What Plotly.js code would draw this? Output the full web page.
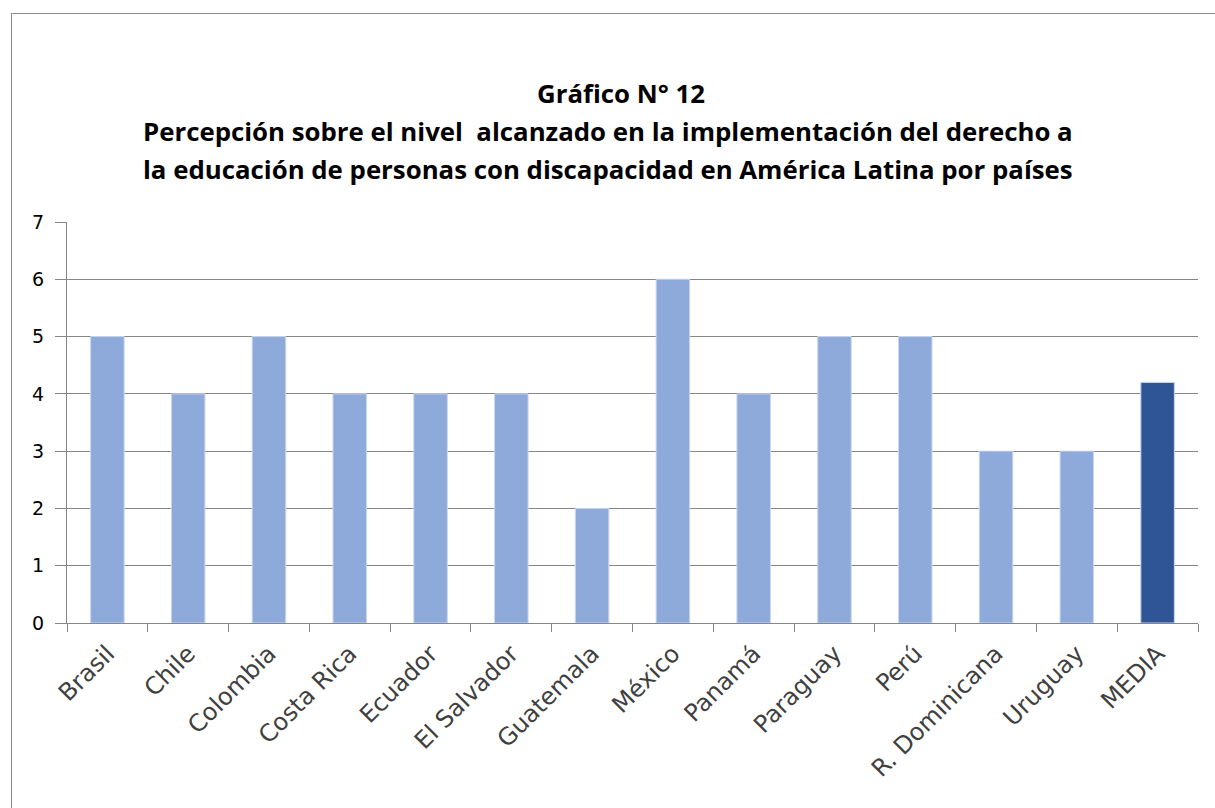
<!DOCTYPE html>
<html>
<head>
<meta charset="utf-8">
<script src="https://cdn.plot.ly/plotly-3.0.1.min.js"></script>
<style>
  html, body { margin: 0; padding: 0; background: #ffffff; }
  #wrap { position: relative; width: 1215px; height: 808px; overflow: hidden; }
  #frame { position: absolute; left: 11px; top: 13px; width: 1300px; height: 900px;
           border: 1px solid #8c8c8c; box-sizing: border-box; pointer-events: none; }
  #chart { position: absolute; left: 0; top: 0; width: 1215px; height: 808px; }
</style>
</head>
<body>
<div id="wrap">
  <div id="frame"></div>
  <div id="chart"></div>
</div>
<script>
const categories = ['Brasil', 'Chile', 'Colombia', 'Costa Rica', 'Ecuador', 'El Salvador',
  'Guatemala', 'México', 'Panamá', 'Paraguay', 'Perú', 'R. Dominicana', 'Uruguay', 'MEDIA'];
const values = [5, 4, 5, 4, 4, 4, 2, 6, 4, 5, 5, 3, 3, 4.2];
const barColors = ['#8eaadb', '#8eaadb', '#8eaadb', '#8eaadb', '#8eaadb', '#8eaadb', '#8eaadb',
  '#8eaadb', '#8eaadb', '#8eaadb', '#8eaadb', '#8eaadb', '#8eaadb', '#2f5597'];
const yTicks = [0, 1, 2, 3, 4, 5, 6, 7];
const titleLine1 = 'Gráfico N° 12';
const titleLine2 = 'Percepción sobre el nivel  alcanzado en la implementación del derecho a';
const titleLine3 = 'la educación de personas con discapacidad en América Latina por países';

const titleFont = { family: 'Open Sans, Noto Sans, sans-serif', size: 25.8, color: '#000000', weight: 700 };
const tickFamily = 'DejaVu Sans, sans-serif';

const data = [{
  type: 'bar',
  x: categories,
  y: values,
  marker: { color: barColors, line: { color: '#c9d7ef', width: 1 } },
  hoverinfo: 'x+y'
}];

const layout = {
  width: 1215,
  height: 808,
  paper_bgcolor: 'rgba(0,0,0,0)',
  plot_bgcolor: 'rgba(0,0,0,0)',
  margin: { l: 67, r: 17, t: 222, b: 185, pad: 0 },
  bargap: 0.585,
  showlegend: false,
  title: {
    text: '<b>' + titleLine1 + '</b>',
    font: titleFont,
    x: (621 - 67) / 1131, xref: 'paper', xanchor: 'center',
    y: 1 - 94 / 808, yref: 'container', yanchor: 'middle'
  },
  annotations: [
    { text: '<b>' + titleLine2 + '</b>', xref: 'paper', yref: 'paper', x: (608 - 67) / 1131, y: 1 + (222 - 131) / 401,
      xanchor: 'center', yanchor: 'middle', showarrow: false, font: titleFont },
    { text: '<b>' + titleLine3 + '</b>', xref: 'paper', yref: 'paper', x: (608 - 67) / 1131, y: 1 + (222 - 169) / 401,
      xanchor: 'center', yanchor: 'middle', showarrow: false, font: titleFont }
  ],
  xaxis: {
    type: 'category',
    tickangle: -45,
    tickson: 'boundaries',
    ticks: 'outside',
    ticklen: 8,
    tickwidth: 1,
    tickcolor: '#868686',
    showline: true,
    linecolor: '#868686',
    linewidth: 1,
    showgrid: false,
    ticklabelstandoff: 6,
    tickfont: { family: tickFamily, size: 24, color: '#404040' },
    automargin: false
  },
  yaxis: {
    range: [0, 7],
    tickvals: yTicks,
    ticktext: yTicks.map(String),
    ticks: 'outside',
    ticklen: 11,
    tickwidth: 1,
    tickcolor: '#868686',
    showline: true,
    linecolor: '#868686',
    linewidth: 1,
    showgrid: true,
    gridcolor: '#868686',
    gridwidth: 1,
    zeroline: false,
    ticklabelstandoff: 7,
    tickfont: { family: tickFamily, size: 19, color: '#000000' },
    automargin: false
  }
};

Plotly.newPlot('chart', data, layout, { displayModeBar: false, staticPlot: true });
</script>
</body>
</html>
